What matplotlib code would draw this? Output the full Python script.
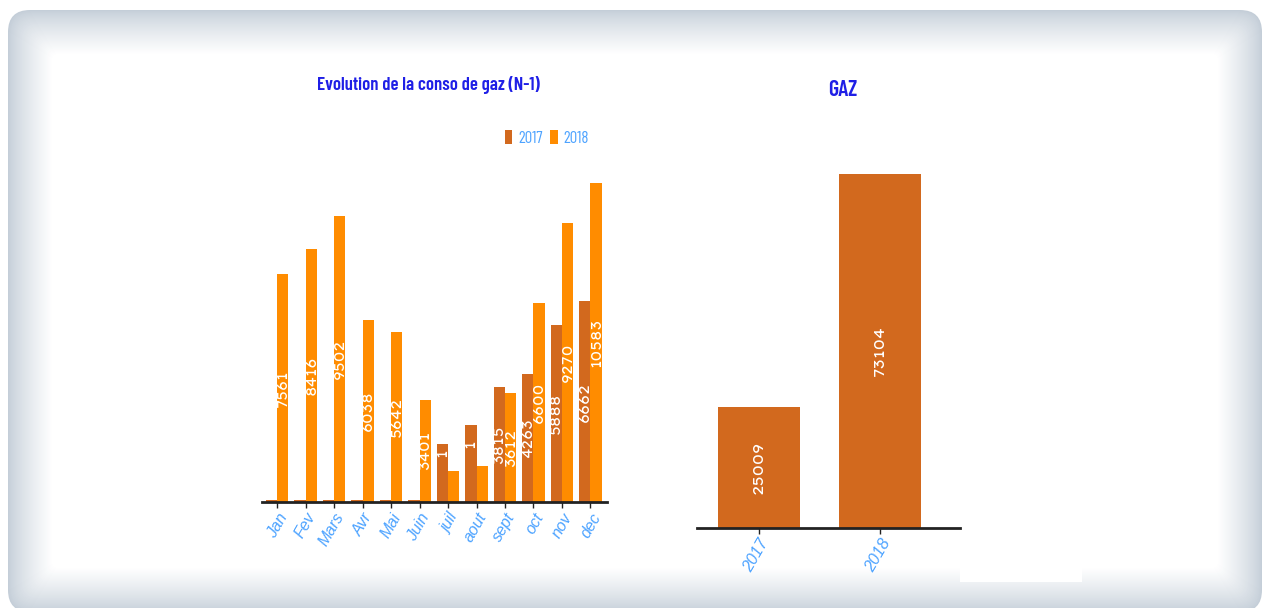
import matplotlib
matplotlib.use('Agg')
import matplotlib.pyplot as plt
from matplotlib.patches import FancyBboxPatch, Rectangle
from matplotlib import font_manager as fm
import numpy as np

plt.rcParams['font.family'] = ['Liberation Sans', 'DejaVu Sans']
installed = set(f.name for f in fm.fontManager.ttflist)


def pick(cands):
    return [c for c in cands if c in installed][:1] + ['DejaVu Sans']


narrow = pick(['Saira Extra Condensed', 'Barlow Condensed', 'Pathway Gothic One',
               'Archivo Narrow', 'Roboto Condensed', 'Liberation Sans'])
wide = pick(['Lexend Giga', 'Lexend Exa', 'Lexend Mega', 'Lexend Zetta', 'Krona One',
             'Michroma', 'Syncopate', 'DejaVu Sans'])

# données
mois = ['Jan', 'Fev', 'Mars', 'Avr', 'Mai', 'Juin', 'juil', 'aout', 'sept', 'oct', 'nov', 'dec']
conso_2017 = [60, 60, 60, 60, 60, 60, 1931, 2561, 3815, 4263, 5888, 6662]
conso_2018 = [7561, 8416, 9502, 6038, 5642, 3401, 1031, 1211, 3612, 6600, 9270, 10583]
labels_2017 = ['', '', '', '', '', '', '1', '1', '3815', '4263', '5888', '6662']
labels_2018 = ['7561', '8416', '9502', '6038', '5642', '3401', '', '', '3612', '6600', '9270', '10583']

annees = ['2017', '2018']
total_gaz = [25009, 73104]

c2017 = '#d2691e'
c2018 = '#ff8c00'
bleu_titre = '#1f1fe6'
bleu_ticks = '#4da3ff'

W, H = 1268, 608
fig = plt.figure(figsize=(W / 100, H / 100), dpi=100)

# cadre arrondi avec ombre
bg = fig.add_axes([0, 0, 1, 1], zorder=-10)
bg.set_xlim(0, W)
bg.set_ylim(H, 0)
bg.axis('off')
edge = np.array([196, 206, 216]) / 255.0
n = 45
for i in range(n):
    t = (i / (n - 1)) ** 0.8
    col = edge + (1 - edge) * t
    x0, y0, x1, y1 = 8 + i, 10 + i, 1262 - i, 612 - i
    r = max(22 - i * 0.4, 4)
    bg.add_patch(FancyBboxPatch((x0 + r, y0 + r), (x1 - x0) - 2 * r, (y1 - y0) - 2 * r,
                                boxstyle="round,pad=%f" % r, fc=col, ec='none'))
bg.add_patch(Rectangle((960, 528), 122, 54, fc='white', ec='none'))


def px_axes(x0, y0, x1, y1):
    return fig.add_axes([x0 / W, 1 - y1 / H, (x1 - x0) / W, (y1 - y0) / H])


def style_axis(ax):
    for s in ['top', 'right', 'left']:
        ax.spines[s].set_visible(False)
    ax.spines['bottom'].set_linewidth(2)
    ax.spines['bottom'].set_color('#222222')
    ax.set_yticks([])
    ax.tick_params(axis='x', length=4, width=1, color='#222222', pad=2)
    ax.patch.set_alpha(0)


# graphique mensuel
ax1 = px_axes(262, 150, 607, 502)
x = np.arange(len(mois))
b17 = ax1.bar(x - 0.2, conso_2017, 0.4, color=c2017, label='2017')
b18 = ax1.bar(x + 0.2, conso_2018, 0.4, color=c2018, label='2018')
ax1.set_xlim(-0.53, 11.58)
ax1.set_ylim(0, 352 * 33.2)
style_axis(ax1)
ax1.set_xticks(x)
ax1.set_xticklabels(mois, rotation=60, ha='right', va='top', rotation_mode='anchor',
                    style='italic', fontsize=11.5, color=bleu_ticks,
                    family=['Liberation Sans', 'DejaVu Sans'])

for bars, labs in [(b17, labels_2017), (b18, labels_2018)]:
    for b, lab in zip(bars, labs):
        if not lab:
            continue
        cx = b.get_x() + b.get_width() / 2
        cy = b.get_height() / 2
        dy = 20 if len(lab) == 1 else 0
        ax1.annotate(lab, (cx, cy), xytext=(0, dy), textcoords='offset pixels',
                     rotation=90, ha='center', va='center', color='white',
                     fontsize=10.5, family=wide, weight='medium')

ax1.legend(loc='center', bbox_to_anchor=(0.826, 1.034), ncol=2, frameon=False,
           handlelength=0.45, handleheight=0.9, handletextpad=0.35, columnspacing=0.45,
           prop={'family': narrow, 'size': 12}, labelcolor=bleu_ticks)

fig.text(428 / W, 1 - 85 / H, 'Evolution de la conso de gaz (N-1)', ha='center', va='center',
         color=bleu_titre, fontsize=13.5, family=narrow, weight='semibold')

# graphique total
ax2 = px_axes(697, 150, 960, 528)
xa = np.arange(len(annees))
bt = ax2.bar(xa, total_gaz, 0.68, color=c2017)
ax2.set_xlim(-0.51, 1.66)
ax2.set_ylim(0, 378 * 206.5)
style_axis(ax2)
ax2.set_xticks(xa)
ax2.set_xticklabels(annees, rotation=60, ha='right', va='top', rotation_mode='anchor',
                    style='italic', fontsize=11.5, color=bleu_ticks,
                    family=['Liberation Sans', 'DejaVu Sans'])
for b, v in zip(bt, total_gaz):
    ax2.text(b.get_x() + b.get_width() / 2, v / 2, str(v), rotation=90, ha='center',
             va='center', color='white', fontsize=11, family=wide, weight='medium')

fig.text(843 / W, 1 - 90 / H, 'GAZ', ha='center', va='center',
         color=bleu_titre, fontsize=16, family=narrow, weight='semibold')

fig.savefig('out.png', dpi=100)
